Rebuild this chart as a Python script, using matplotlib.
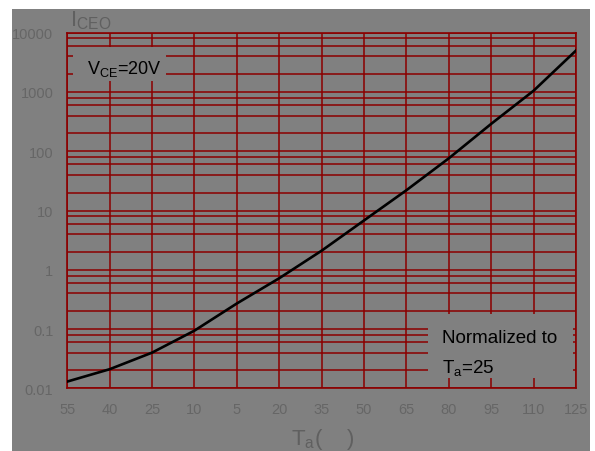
import matplotlib.pyplot as plt
import matplotlib.ticker as mticker
from matplotlib.patches import Rectangle

plt.rcParams['font.family'] = ['Liberation Sans', 'DejaVu Sans']
plt.rcParams['mathtext.default'] = 'regular'

# Datos
temps = [-55, -40, -25, -10, 5, 20, 35, 50, 65, 80, 95, 110, 125]
iceo = [0.013, 0.021, 0.040, 0.094, 0.27, 0.72, 2.1, 6.8, 22, 76, 290, 1050, 5000]
xtick_labels = ["55", "40", "25", "10", "5", "20", "35", "50", "65", "80", "95", "110", "125"]
ytick_vals = [0.01, 0.1, 1, 10, 100, 1000, 10000]
ytick_labels = ["0.01", "0.1", "1", "10", "100", "1000", "10000"]

GRIS = '#808080'
ROJO = '#8b0000'
TXT = '#666666'

fig = plt.figure(figsize=(5.95, 4.52), dpi=100, facecolor='white')
fig.patches.append(Rectangle((12 / 595, 0), 578 / 595, 442 / 452, transform=fig.transFigure,
                             facecolor=GRIS, edgecolor='none', zorder=-10))

ax = fig.add_axes([67.3 / 595, 1 - 389.3 / 452, 508.7 / 595, 355.6 / 452])
ax.set_facecolor(GRIS)
ax.set_yscale('log')
ax.set_xlim(-55, 125)
ax.set_ylim(0.01, 10000)

ax.plot(temps, iceo, color='black', lw=1.9, solid_joinstyle='round', zorder=4)

ax.set_xticks(temps)
ax.set_xticklabels(xtick_labels)
ax.set_yticks(ytick_vals)
ax.set_yticklabels(ytick_labels)
ax.yaxis.set_minor_locator(mticker.LogLocator(base=10, subs=[2, 4, 6, 8]))
ax.yaxis.set_minor_formatter(mticker.NullFormatter())
ax.tick_params(which='both', length=0, labelsize=10.5, colors=TXT, pad=10)

ax.grid(True, which='both', color=ROJO, lw=1.1)
for s in ax.spines.values():
    s.set_color(ROJO)
    s.set_linewidth(1.2)

# Cajas de texto que tapan la grilla
ax.add_patch(Rectangle((0.011, 0.864), 0.183, 0.096, transform=ax.transAxes,
                       facecolor=GRIS, edgecolor='none', zorder=3))
ax.text(87.3 / 595, 1 - 74 / 452, r'V$_{CE}$=20V', transform=fig.transFigure,
        fontsize=13, color='black', ha='left', va='baseline', zorder=5)

ax.add_patch(Rectangle((0.709, 0.029), 0.2845, 0.18, transform=ax.transAxes,
                       facecolor=GRIS, edgecolor='none', zorder=3))
fig.text(441.7 / 595, 1 - 343 / 452, 'Normalized to', fontsize=13.5, color='black',
         ha='left', va='baseline')
fig.text(441.7 / 595, 1 - 373 / 452, r'T$_{a}$=25', fontsize=13.5, color='black',
         ha='left', va='baseline')

# Etiquetas de ejes
fig.text(70 / 595, 1 - 26 / 452, r'I$_{CEO}$', fontsize=16, color='#606060',
         ha='left', va='baseline')
fig.text(323 / 595, 1 - 445 / 452, r'T$_{a}$(    )', fontsize=16, color='#606060',
         ha='center', va='baseline')

fig.savefig('out.png', dpi=100, facecolor='white')
